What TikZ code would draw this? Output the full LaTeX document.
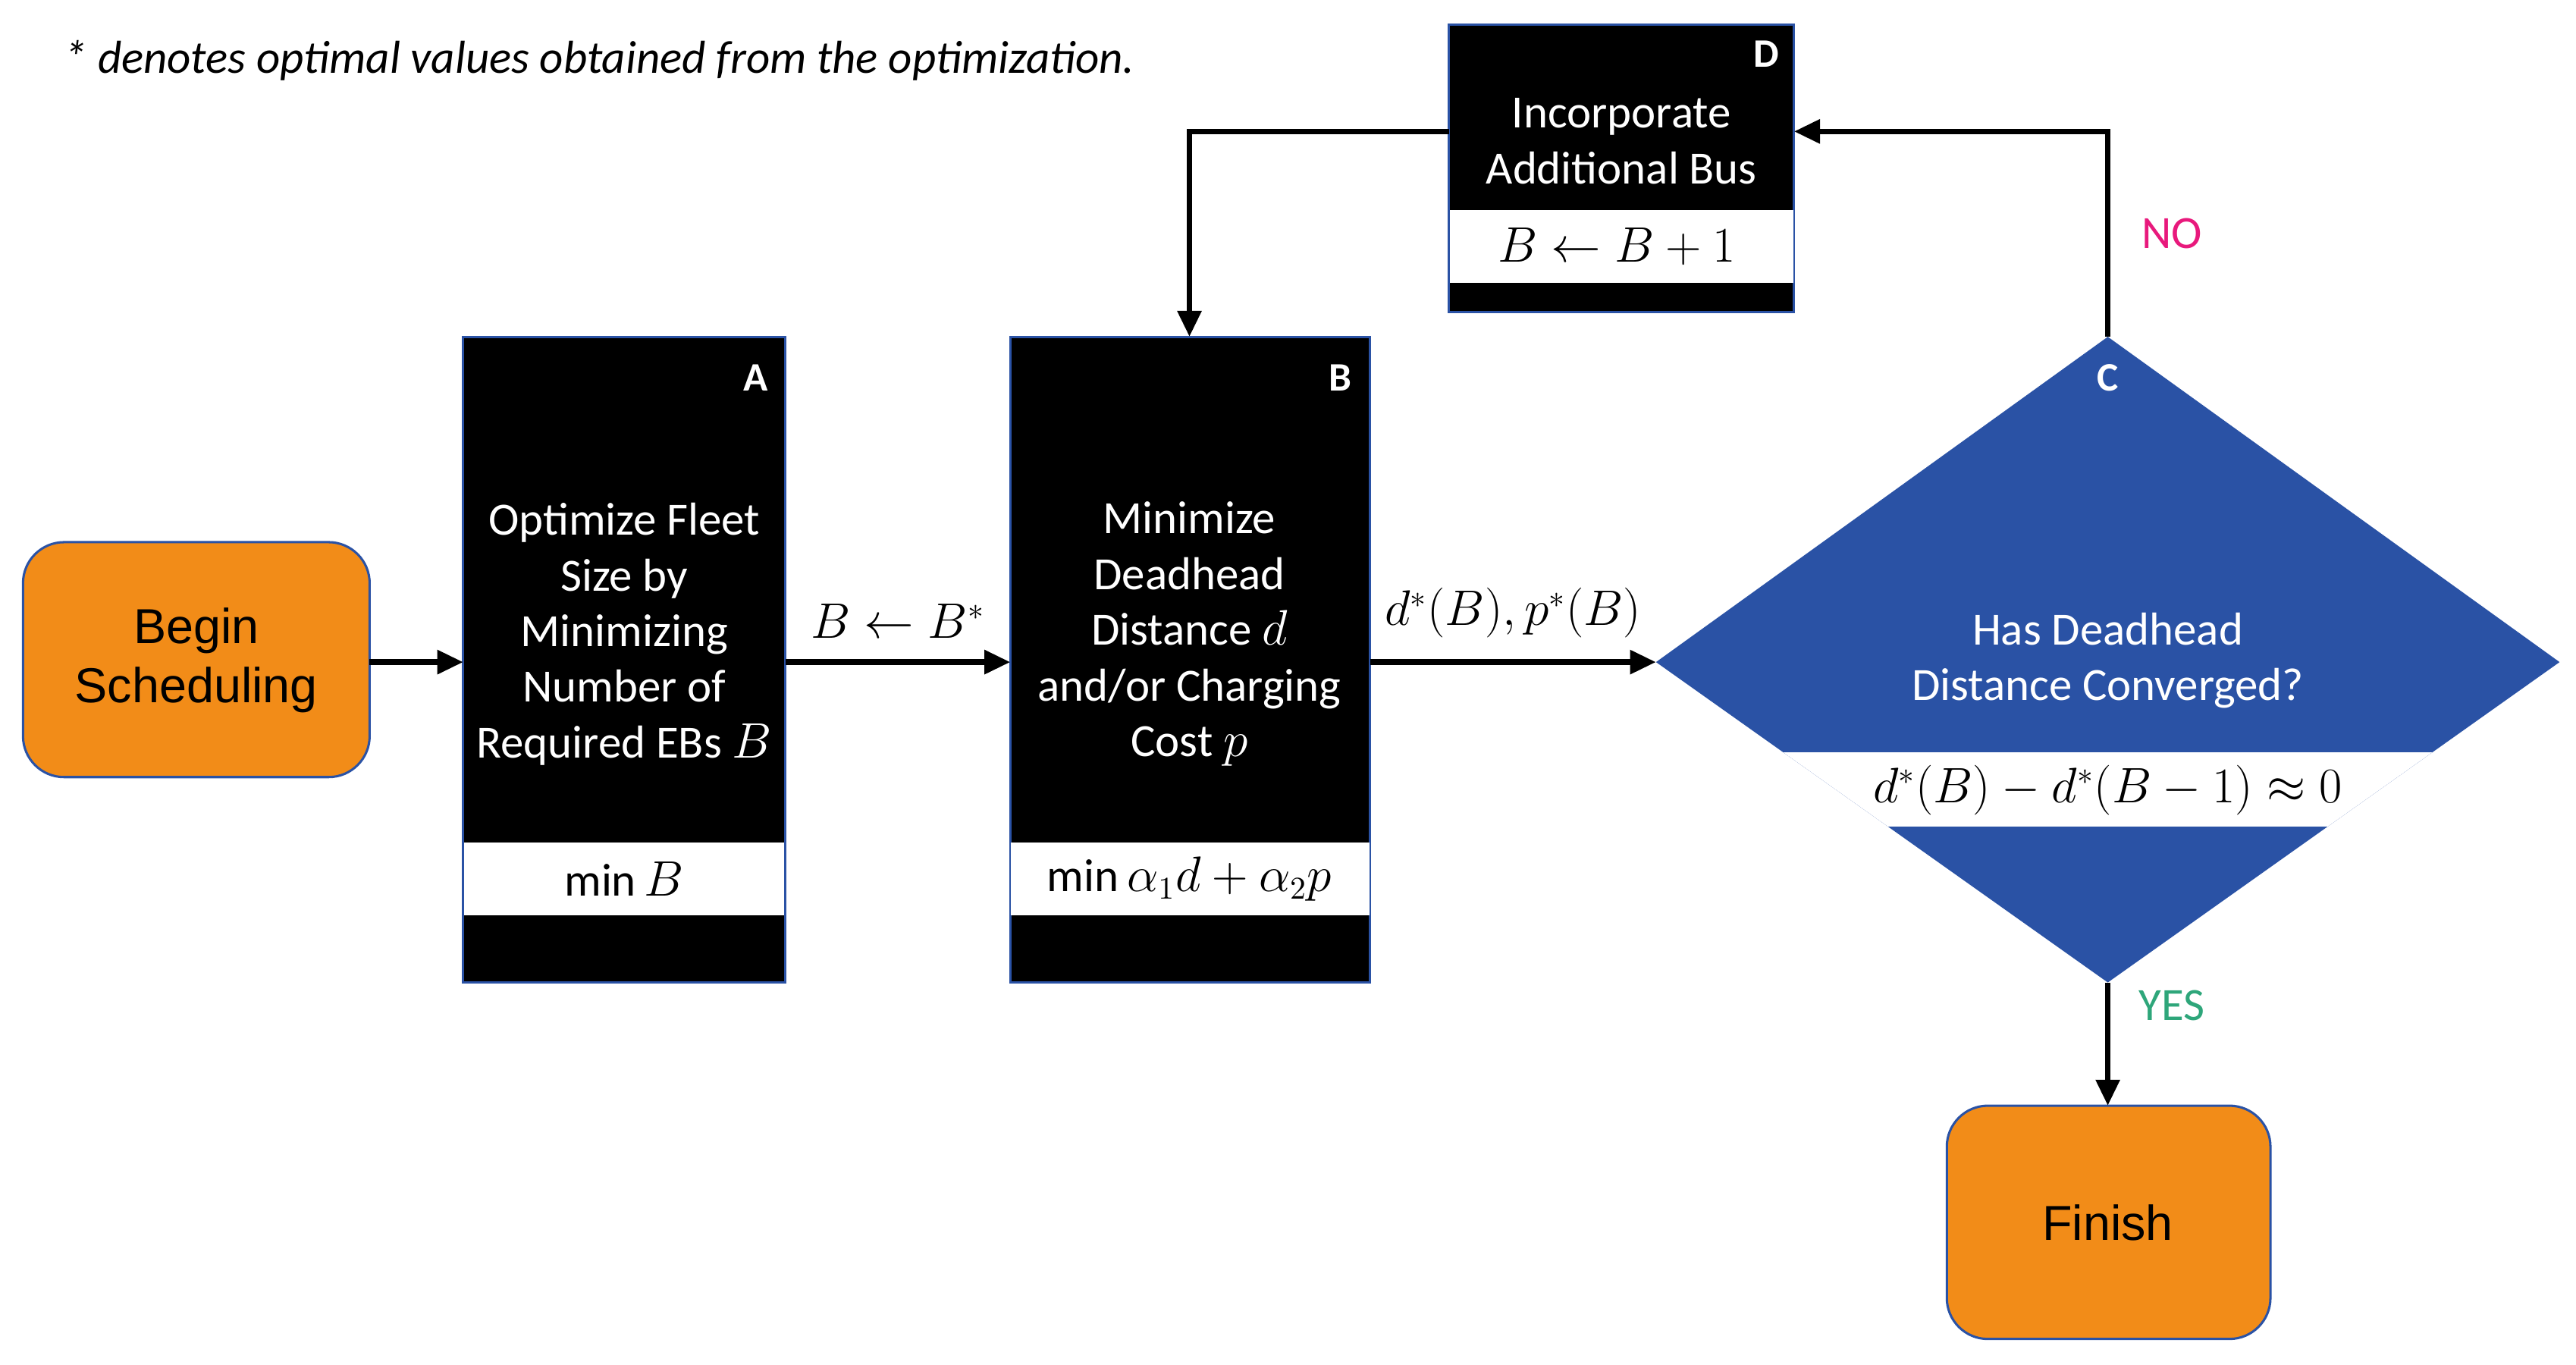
\documentclass[tikz,border=0pt]{standalone}
\usepackage{fontspec}
\setmainfont{Carlito}
\newfontfamily\arialf{Liberation Sans}
\usetikzlibrary{arrows.meta,shapes.geometric}
\definecolor{org}{HTML}{F28C18}
\definecolor{blu}{HTML}{2A52A5}
\definecolor{nocol}{HTML}{E8197C}
\definecolor{yescol}{HTML}{2EA67A}
\begin{document}
\begin{tikzpicture}[x=0.02cm,y=-0.02cm,
  txt/.style={font=\fontsize{16}{19.3}\selectfont,align=center},
  blk/.style={fill=black,draw=blu,line width=0.8pt},
  strip/.style={fill=white},
  lab/.style={text=white,font=\fontsize{14}{16}\selectfont\bfseries},
  term/.style={fill=org,draw=blu,line width=0.8pt,rounded corners=0.5cm},
  arr/.style={line width=2pt,-{Triangle[length=9pt,width=8pt]}}]
\useasboundingbox (0,0) rectangle (1568,830.8);
\node[anchor=west,font=\fontsize{16}{19}\selectfont\itshape] (note) at (33,37) {* denotes optimal values obtained from the optimization.};
% Begin
\draw[term] (14,330) rectangle (225,473);
\node[font=\arialf\fontsize{17}{20.5}\selectfont,align=center] (begin) at (119.5,402) {Begin\\Scheduling};
\coordinate (beginE) at (225,403);
% A
\draw[blk] (282,205) rectangle (478,598);
\fill[strip] (282.5,513) rectangle (477.5,557);
\node[txt,text=white] (atext) at (380,386) {Optimize Fleet\\Size by\\Minimizing\\Number of\\Required EBs $B$};
\node[txt] (amin) at (380,535) {$\min B$};
\node[lab] (alab) at (460,230) {A};
\coordinate (aW) at (282,403); \coordinate (aE) at (478,403);
% B
\draw[blk] (615,205) rectangle (834,598);
\fill[strip] (615.5,513) rectangle (833.5,557);
\node[txt,text=white] (btext) at (724,386) {Minimize\\Deadhead\\Distance $d$\\and/or Charging\\Cost $p$};
\node[txt] (bmin) at (724,535) {$\min \alpha_1 d+\alpha_2 p$};
\node[lab] (blab) at (816,230) {B};
\coordinate (bW) at (615,403); \coordinate (bE) at (834,403); \coordinate (bN) at (724,205);
% C
\coordinate (cW) at (1008,403); \coordinate (cN) at (1283,205); \coordinate (cS) at (1283,598);
\fill[blu] (1008,403) -- (1283,205) -- (1558,403) -- (1283,598) -- cycle;
\begin{scope}
\clip (1008,403) -- (1283,205) -- (1558,403) -- (1283,598) -- cycle;
\fill[strip] (1000,458) rectangle (1560,503);
\end{scope}
\node[txt,text=white] (ctext) at (1283,402) {Has Deadhead\\Distance Converged?};
\node[txt] (cmath) at (1283,481) {$d^*(B)-d^*(B-1)\approx 0$};
\node[lab] (clab) at (1283,230) {C};
% D
\draw[blk] (882,15) rectangle (1092,190);
\fill[strip] (882.5,128) rectangle (1091.5,172);
\node[txt,text=white] (dtext) at (987,86) {Incorporate\\Additional Bus};
\node[txt] (dmath) at (984,150) {$B\leftarrow B+1$};
\node[lab] (dlab) at (1075,33) {D};
\coordinate (dE) at (1092,80); \coordinate (dW) at (882,80);
% Finish
\draw[term] (1185,673) rectangle (1382,815);
\node[font=\arialf\fontsize{17}{20.5}\selectfont] (fin) at (1283,744) {Finish};
\coordinate (fN) at (1283,673);
% arrows
\draw[arr] (beginE) -- (aW);
\draw[arr] (aE) -- node[above=4pt,txt] (l1) {$B\leftarrow B^*$} (bW);
\draw[arr] (bE) -- node[above=4pt,txt] (l2) {$d^*(B),p^*(B)$} (cW);
\draw[arr] (cN) |- (dE);
\draw[arr] (dW) -| (bN);
\draw[arr] (cS) -- (fN);
\node[txt,text=nocol] (no) at (1322,142) {NO};
\node[txt,text=yescol] (yes) at (1322,612) {YES};
\end{tikzpicture}
\end{document}
